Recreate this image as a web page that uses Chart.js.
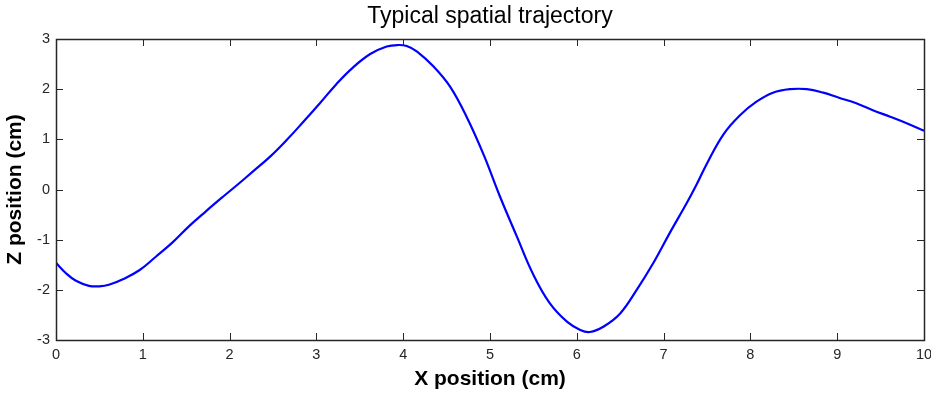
<!DOCTYPE html>
<html>
<head>
<meta charset="utf-8">
<title>Typical spatial trajectory</title>
<script src="https://cdn.jsdelivr.net/npm/chart.js@4.4.1/dist/chart.umd.min.js"></script>
<style>
  html, body { margin: 0; padding: 0; background: #fff; }
  #wrap { width: 931px; height: 393px; }
</style>
</head>
<body>
<div id="wrap"><canvas id="traj"></canvas></div>
<script>
// trajectory samples, X (cm) and Z (cm)
const xPos = [0, 0.115, 0.23, 0.38, 0.5, 0.61, 0.77, 0.96, 1.15, 1.34, 1.54, 1.73, 1.92, 2.08,
  2.27, 2.47, 2.66, 2.85, 3.04, 3.23, 3.42, 3.62, 3.81, 3.94, 4.04, 4.16, 4.35, 4.54, 4.73,
  4.93, 5.11, 5.31, 5.5, 5.69, 5.89, 6.04, 6.15, 6.31, 6.5, 6.69, 6.88, 7.07, 7.27, 7.38,
  7.5, 7.69, 7.88, 8.07, 8.26, 8.46, 8.65, 8.84, 9.02, 9.22, 9.41, 9.61, 9.8, 10];
const zPos = [-1.46, -1.67, -1.82, -1.92, -1.93, -1.9, -1.79, -1.61, -1.34, -1.06, -0.72, -0.43,
  -0.15, 0.08, 0.36, 0.66, 0.99, 1.35, 1.72, 2.1, 2.43, 2.7, 2.85, 2.88, 2.86, 2.75, 2.45,
  2.05, 1.45, 0.68, -0.12, -0.94, -1.7, -2.27, -2.64, -2.8, -2.84, -2.73, -2.47, -2.0, -1.47,
  -0.87, -0.26, 0.1, 0.52, 1.1, 1.48, 1.75, 1.93, 2.0, 2.0, 1.93, 1.83, 1.72, 1.58, 1.45,
  1.32, 1.17];

const xTicks = [0, 1, 2, 3, 4, 5, 6, 7, 8, 9, 10];
const zTicks = [-3, -2, -1, 0, 1, 2, 3];

const axisColor = '#262626';
const fontFamily = '"Liberation Sans", Arial, Helvetica, sans-serif';

// box around the plot area with inward ticks on all four sides
const boxTicks = {
  id: 'boxTicks',
  afterDraw(chart) {
    const { ctx, chartArea: a, scales } = chart;
    const len = 7;
    ctx.save();
    ctx.strokeStyle = axisColor;
    ctx.lineWidth = 1;
    ctx.beginPath();
    xTicks.forEach(v => {
      const px = Math.round(scales.x.getPixelForValue(v)) + 0.5;
      ctx.moveTo(px, a.bottom); ctx.lineTo(px, a.bottom - len);
      ctx.moveTo(px, a.top); ctx.lineTo(px, a.top + len);
    });
    zTicks.forEach(v => {
      const py = Math.round(scales.y.getPixelForValue(v)) + 0.5;
      ctx.moveTo(a.left, py); ctx.lineTo(a.left + len, py);
      ctx.moveTo(a.right, py); ctx.lineTo(a.right - len, py);
    });
    ctx.stroke();
    ctx.lineWidth = 1.5;
    ctx.strokeRect(Math.round(a.left) + 0.5, Math.round(a.top) + 0.5,
      Math.round(a.right - a.left), Math.round(a.bottom - a.top));
    ctx.restore();
  }
};

new Chart(document.getElementById('traj'), {
  type: 'scatter',
  data: {
    datasets: [{
      data: xPos.map((x, i) => ({ x: x, y: zPos[i] })),
      showLine: true,
      borderColor: '#0000ff',
      borderWidth: 2.2,
      pointRadius: 0,
      tension: 0.4,
      fill: false
    }]
  },
  options: {
    responsive: true,
    maintainAspectRatio: false,
    animation: false,
    layout: { padding: { left: 0, right: 7, top: 0, bottom: 0 } },
    plugins: {
      legend: { display: false },
      tooltip: { enabled: false },
      title: {
        display: true,
        fullSize: false,   // centre over the plot box, not the whole canvas
        text: 'Typical spatial trajectory',
        color: '#000',
        font: { family: fontFamily, size: 23, weight: 'normal', lineHeight: 1.2 },
        padding: { top: 2.5, bottom: 8.9 }
      }
    },
    scales: {
      x: {
        type: 'linear',
        min: 0,
        max: 10,
        afterBuildTicks: s => { s.ticks = xTicks.map(v => ({ value: v })); },
        // the "10" label may run past the plot edge, so no extra side padding
        afterFit: s => { s.height = 53; s.paddingLeft = 0; s.paddingRight = 0; },
        grid: { display: false, drawTicks: false },
        border: { display: false },
        ticks: {
          color: axisColor,
          padding: 6,
          maxRotation: 0,
          font: { family: fontFamily, size: 14.5 }
        },
        title: {
          display: true,
          text: 'X position (cm)',
          color: '#000',
          font: { family: fontFamily, size: 21, weight: 'bold', lineHeight: 1.2 },
          padding: { top: 0, bottom: 1 }
        }
      },
      y: {
        type: 'linear',
        min: -3,
        max: 3,
        afterBuildTicks: s => { s.ticks = zTicks.map(v => ({ value: v })); },
        afterFit: s => { s.width = 56; },
        grid: { display: false, drawTicks: false },
        border: { display: false },
        ticks: {
          color: axisColor,
          padding: 6,
          font: { family: fontFamily, size: 14.5 }
        },
        title: {
          display: true,
          text: 'Z position (cm)',
          color: '#000',
          font: { family: fontFamily, size: 21, weight: 'bold', lineHeight: 1.2 },
          padding: { top: 2.4, bottom: 0 }
        }
      }
    }
  },
  plugins: [boxTicks]
});
</script>
</body>
</html>
